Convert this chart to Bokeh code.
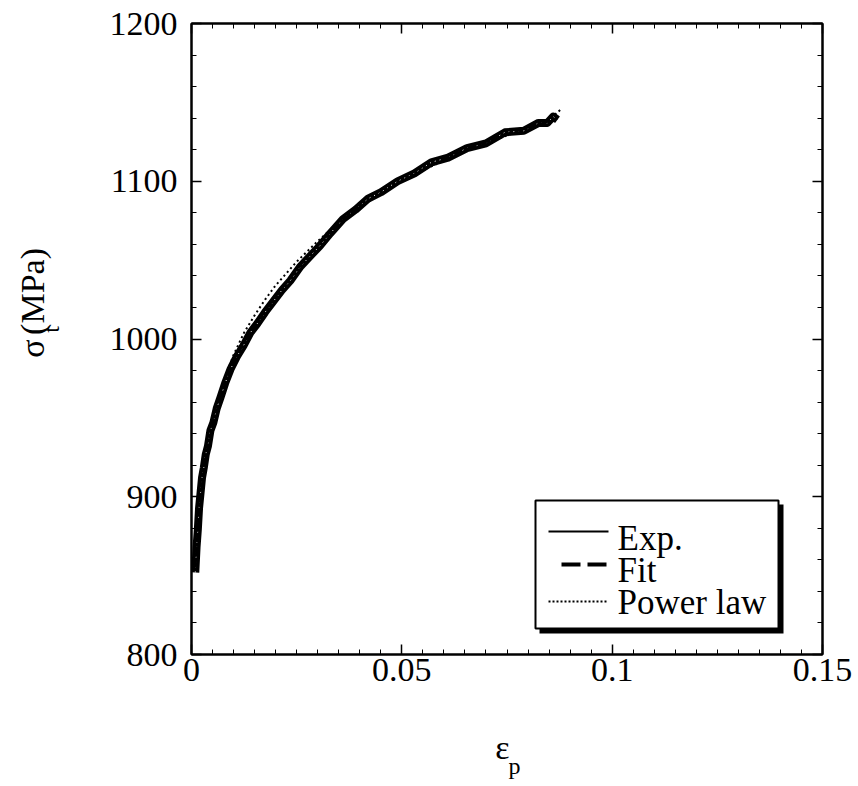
import math
from bokeh.plotting import figure
from bokeh.layouts import column, row
from bokeh.models import LinearAxis, Range1d, FixedTicker, CustomJSTickFormatter
from bokeh.core.properties import value
from bokeh.embed import file_html
from bokeh.resources import INLINE

FONT = "Liberation Serif"

# ---------------- data ----------------
strain_exp = [0.0009, 0.0012, 0.0015, 0.0018, 0.0021, 0.0025, 0.0029, 0.0034, 0.0039,
              0.0045, 0.0052, 0.0060, 0.0069, 0.0080, 0.0093, 0.0108, 0.0124, 0.0140,
              0.0157, 0.0175, 0.0195, 0.0215, 0.0235, 0.0259, 0.0280, 0.0305, 0.0330,
              0.0360, 0.0390, 0.0420, 0.0450, 0.0490, 0.0530, 0.0570, 0.0610, 0.0655,
              0.0700, 0.0745, 0.0790, 0.0825, 0.0846, 0.0860, 0.0870]
stress_exp = [852, 868, 879, 893, 901, 912, 918, 927, 932,
              942, 947, 956, 963, 972, 981, 989, 996, 1004,
              1010, 1017, 1024, 1031, 1037, 1046, 1052, 1059, 1067,
              1076, 1082, 1089, 1093, 1100, 1105, 1112, 1115, 1121,
              1124, 1131, 1132, 1137, 1137, 1141, 1139]

strain_fit = [0.0009, 0.0020, 0.0030, 0.0050, 0.0075, 0.0100, 0.0125, 0.0150, 0.0175,
              0.0200, 0.0250, 0.0300, 0.0350, 0.0400, 0.0450, 0.0500, 0.0550, 0.0600,
              0.0650, 0.0700, 0.0750, 0.0800, 0.0850, 0.0870]
stress_fit = [855, 898, 918, 945, 968, 985, 998, 1008, 1018,
              1027, 1044, 1060, 1073, 1084, 1092, 1100, 1107, 1114,
              1120, 1125, 1130, 1134, 1138, 1140]

strain_pl = [0.0010, 0.0020, 0.0030, 0.0050, 0.0075, 0.0100, 0.0125, 0.0150, 0.0175,
             0.0200, 0.0250, 0.0300, 0.0350, 0.0400, 0.0450, 0.0500, 0.0550, 0.0600,
             0.0650, 0.0700, 0.0750, 0.0800, 0.0850, 0.0880]
stress_pl = [862, 900, 922, 949, 972, 990, 1004, 1015, 1025,
             1034, 1049, 1062, 1074, 1084, 1092, 1100, 1107, 1113,
             1119, 1124, 1129, 1134, 1139, 1146]

x_ticks = [0, 0.05, 0.1, 0.15]
x_ticklabels = ["0", "0.05", "0.1", "0.15"]
y_ticks = [800, 900, 1000, 1100, 1200]
y_ticklabels = ["800", "900", "1000", "1100", "1200"]
legend_labels = ["Exp.", "Fit", "Power law"]
x_title = ["ε", "p"]
y_title = ["σ", "t", "(MPa)"]

W, H = 858, 786
YL_W = 72          # width of the strip holding the y-axis title
XL_H = 56          # height of the strip holding the x-axis title
MAIN_W, MAIN_H = W - YL_W, H - XL_H
X0, X1, Y0, Y1 = 0.0, 0.15, 800.0, 1200.0
FL, FR, FT, FB = 191, 822, 23, 654   # frame edges in page pixels


def sx(px):  # page px -> data x (layout helper for the legend)
    return X0 + (X1 - X0) * (px - FL) / (FR - FL)


def sy(py):  # page py -> data y (layout helper for the legend)
    return Y0 + (Y1 - Y0) * (FB - py) / (FB - FT)


# ---------------- main figure ----------------
p = figure(width=MAIN_W, height=MAIN_H, x_range=Range1d(X0, X1), y_range=Range1d(Y0, Y1),
           output_backend="svg", toolbar_location=None, min_border=0,
           min_border_left=FL - YL_W, min_border_right=W - FR, min_border_top=FT,
           min_border_bottom=MAIN_H - FB)
p.xgrid.visible = False
p.ygrid.visible = False
p.outline_line_color = "black"
p.outline_line_width = 2
p.background_fill_color = "white"
p.border_fill_color = "white"

x_minor = [i * 0.005 for i in range(31)]
y_minor = [800 + i * 20 for i in range(21)]
xt = FixedTicker(ticks=x_ticks, minor_ticks=x_minor)
yt = FixedTicker(ticks=y_ticks, minor_ticks=y_minor)
LOOKUP = "for (let i=0;i<t.length;i++){if (Math.abs(t[i]-tick)<1e-9) return l[i];} return '';"
xfmt = CustomJSTickFormatter(args=dict(t=x_ticks, l=x_ticklabels), code=LOOKUP)
yfmt = CustomJSTickFormatter(args=dict(t=y_ticks, l=y_ticklabels), code=LOOKUP)
blank = CustomJSTickFormatter(code="return '';")


def style_axis(ax, ticker, fmt, standoff, size="34px"):
    ax.ticker = ticker
    ax.formatter = fmt
    ax.axis_line_color = "black"
    ax.axis_line_width = 2
    ax.major_tick_in = 10
    ax.major_tick_out = 0
    ax.minor_tick_in = 5
    ax.minor_tick_out = 0
    ax.major_tick_line_width = 1.5
    ax.minor_tick_line_width = 1
    ax.major_tick_line_color = "black"
    ax.minor_tick_line_color = "black"
    ax.major_label_text_font = FONT
    ax.major_label_text_font_size = size
    ax.major_label_text_color = "black"
    ax.major_label_standoff = standoff


style_axis(p.xaxis[0], xt, xfmt, 4)
style_axis(p.yaxis[0], yt, yfmt, 14)
top_ax = LinearAxis()
right_ax = LinearAxis()
style_axis(top_ax, xt, blank, 0, "1px")
style_axis(right_ax, yt, blank, 0, "1px")
p.add_layout(top_ax, "above")
p.add_layout(right_ax, "right")

# ---------------- curves ----------------
p.line(strain_exp, stress_exp, line_color="black", line_width=8, line_join="round")
p.line(strain_exp, stress_exp, line_color="white", line_width=1, line_dash="1 4")
p.line(strain_fit, stress_fit, line_color="black", line_width=2.5, line_dash="8 5")
p.line(strain_pl, stress_pl, line_color="black", line_width=2, line_dash="2 3")

# ---------------- legend (boxed, with a drop shadow) ----------------
p.quad(left=[sx(539)], right=[sx(783)], top=[sy(504)], bottom=[sy(633)],
       fill_color="black", line_alpha=0)
p.quad(left=[sx(535)], right=[sx(778)], top=[sy(500)], bottom=[sy(628)],
       fill_color="white", line_color="black", line_width=2)
p.line([sx(548), sx(608)], [sy(531), sy(531)], line_color="black", line_width=2)
p.line([sx(561), sx(608)], [sy(564), sy(564)], line_color="black", line_width=4,
       line_dash="19 7")
p.line([sx(548), sx(608)], [sy(601), sy(601)], line_color="black", line_width=2,
       line_dash="2 2")
p.text(x=[sx(617)] * 3, y=[sy(538), sy(570), sy(602)], text=legend_labels,
       text_font=value(FONT), text_font_size="35px", text_color="black",
       text_align="left", text_baseline="middle")


def strip(width, height, xr, yr):
    f = figure(width=width, height=height, x_range=xr, y_range=yr, output_backend="svg",
               toolbar_location=None, min_border=0, x_axis_location=None, y_axis_location=None)
    f.xgrid.visible = False
    f.ygrid.visible = False
    f.outline_line_color = None
    f.background_fill_color = "white"
    f.border_fill_color = "white"
    return f


# ---------------- y-axis title strip (page pixel coordinates) ----------------
yfig = strip(YL_W, MAIN_H, Range1d(0, YL_W), Range1d(MAIN_H, 0))
yfig.text(x=[32, 32], y=[376, 310], text=[y_title[0], y_title[2]], angle=math.pi / 2,
          text_font=value(FONT), text_font_size="34px", text_color="black",
          text_align="center", text_baseline="middle")
yfig.text(x=[50], y=[354], text=[y_title[1]], angle=math.pi / 2,
          text_font=value(FONT), text_font_size="24px", text_color="black",
          text_align="center", text_baseline="middle")

# ---------------- x-axis title strip (page pixel coordinates) ----------------
xfig = strip(W, XL_H, Range1d(0, W), Range1d(H, MAIN_H))
xfig.text(x=[502], y=[747], text=[x_title[0]],
          text_font=value(FONT), text_font_size="34px", text_color="black",
          text_align="center", text_baseline="middle")
xfig.text(x=[514], y=[765], text=[x_title[1]],
          text_font=value(FONT), text_font_size="24px", text_color="black",
          text_align="center", text_baseline="middle")

layout = column(row(yfig, p), xfig)
open("out.html", "w").write(file_html(layout, INLINE))
